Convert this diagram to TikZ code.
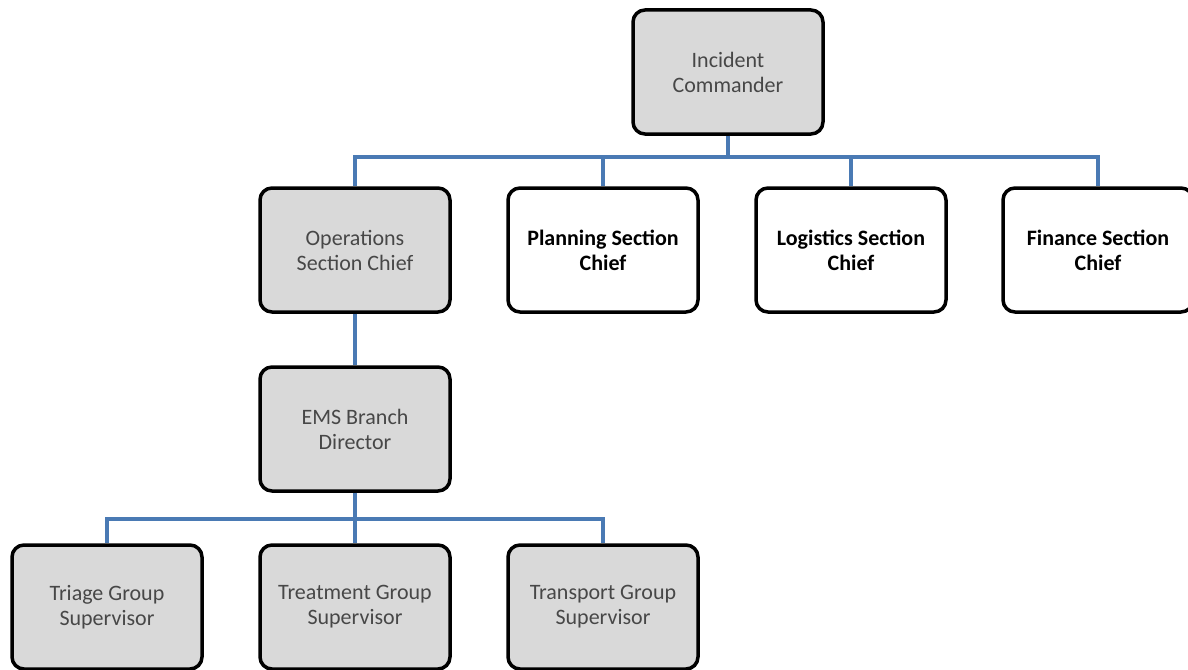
\documentclass[tikz,border=0pt]{standalone}
\usepackage{fontspec}
\setmainfont{Carlito}
\usepackage{tikz}
\usetikzlibrary{positioning}
\definecolor{busblue}{RGB}{74,122,180}
\definecolor{boxgray}{RGB}{217,217,217}
\tikzstyle{unit}=[rectangle,rounded corners=12pt,draw=black,line width=3.5pt,minimum width=190pt,minimum height=124pt,inner sep=0pt,align=center]
\tikzstyle{grayunit}=[unit,fill=boxgray,text=black!72,font=\fontsize{22}{25}\selectfont]
\tikzstyle{whiteunit}=[unit,fill=white,text=black,font=\fontsize{22}{25}\selectfont\bfseries]
\tikzstyle{bus}=[draw=busblue,line width=4.5pt]

\begin{document}
\begin{tikzpicture}[x=1pt,y=1pt]

  \useasboundingbox (0,0) rectangle (1188,-669);
  \clip (0,0) rectangle (1188,-669);

  % command and sections
  \node[grayunit] (IC) at (728,-72) {Incident\\Commander};

  \foreach \x/\y/\name/\label in {355/250/ops/{Operations\\Section Chief}}
          \node[grayunit] (\name) at (\x,-\y) {\label};

  \foreach \x/\y/\name/\label in {603/250/plan/{Planning Section\\Chief}, 851/250/logi/{Logistics Section\\Chief}, 1098/250/fin/{Finance Section\\Chief}}
          \node[whiteunit] (\name) at (\x,-\y) {\label};

  % EMS branch and groups
  \node[grayunit] (ems) at (355,-429) {EMS Branch\\Director};

  \foreach \x/\y/\name/\label in {107/607/triage/{Triage Group\\Supervisor}, 355/607/treat/{Treatment Group\\Supervisor}, 603/607/transp/{Transport Group\\Supervisor}}
          \node[grayunit] (\name) at (\x,-\y) {\label};

  \foreach \dest in {ops,plan,logi,fin}
         \path[bus] (IC.south) -- ++(0,-21) -| (\dest.north);

  \path[bus] (ops.south) -- (ems.north);

  \foreach \dest in {triage,treat,transp}
         \path[bus] (ems.south) -- ++(0,-26) -| (\dest.north);

\end{tikzpicture}
\end{document}
